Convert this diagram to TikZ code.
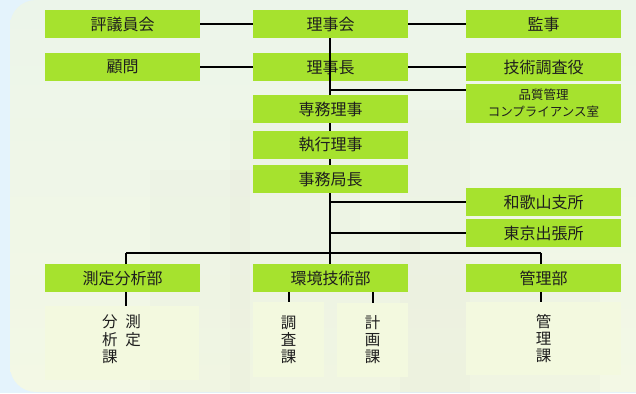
\documentclass[tikz,border=0pt]{standalone}
\usepackage{fontspec}
\setmainfont{Noto Sans CJK JP}
\newfontfamily\cjk{Noto Sans CJK JP}
\definecolor{outerbg}{RGB}{228,243,252}
\definecolor{paneltop}{RGB}{236,245,234}
\definecolor{panelbot}{RGB}{243,248,229}
\definecolor{boxgreen}{RGB}{166,226,46}
\definecolor{subfill}{RGB}{243,249,223}
\definecolor{txt}{RGB}{30,30,30}
\definecolor{photo}{RGB}{200,200,185}
\begin{document}
\begin{tikzpicture}[x=1pt,y=-1pt,
  gbox/.style={fill=boxgreen, draw=none, minimum width=155pt, minimum height=28pt,
    inner sep=0pt, text=txt, font=\cjk\fontsize{16}{17}\selectfont},
  sbox/.style={fill=subfill, draw=none, inner sep=0pt, text=txt,
    font=\cjk\fontsize{15.5}{17}\selectfont, align=center},
  conn/.style={draw=black, line width=2pt}
]
\useasboundingbox (0,0) rectangle (636,393);
\fill[outerbg] (0,0) rectangle (636,393);
\shade[top color=paneltop, bottom color=panelbot, rounded corners=26pt]
  (10,0) rectangle (680,392);
% faint photo texture
\begin{scope}[opacity=0.05]
  \fill[photo] (150,170) rectangle (250,393);
  \fill[photo] (230,120) rectangle (300,393);
  \fill[photo] (300,150) rectangle (360,393);
  \fill[photo] (400,110) rectangle (470,393);
  \fill[photo] (360,230) rectangle (420,393);
  \fill[photo] (420,260) rectangle (600,393);
\end{scope}

% ---- boxes ----
\node[gbox] (hyogi)  at (122.5,24)  {評議員会};
\node[gbox] (rijikai) at (330.5,24) {理事会};
\node[gbox] (kanji)  at (543.5,24)  {監事};
\node[gbox] (komon)  at (122.5,67)  {顧問};
\node[gbox] (rijicho) at (330.5,67) {理事長};
\node[gbox] (gijutsu) at (543.5,67) {技術調査役};
\node[gbox, minimum height=39pt, align=center, font=\cjk\fontsize{12.5}{17}\selectfont]
  (hinshitsu) at (543.5,103.5) {品質管理\\コンプライアンス室};

% ---- coordinates on trunk ----
\coordinate (tHin) at (330,90);
\coordinate (tWak) at (330,202);
\coordinate (tTok) at (330,233);
\coordinate (bus1) at (126,253);
\coordinate (bus2) at (330,253);
\coordinate (bus3) at (541,253);

% trunk (behind boxes)
\draw[conn] (rijikai.south -| bus2) -- (bus2);
\draw[conn] (tHin) -- (hinshitsu.west |- tHin);

\node[gbox] (senmu)  at (330.5,109) {専務理事};
\node[gbox] (shikko) at (330.5,145) {執行理事};
\node[gbox] (jimu)   at (330.5,179) {事務局長};
\node[gbox] (wakayama) at (543.5,202) {和歌山支所};
\node[gbox] (tokyo)  at (543.5,233) {東京出張所};
\node[gbox] (sokutei) at (122.5,278) {測定分析部};
\node[gbox] (kankyo) at (330.5,278) {環境技術部};
\node[gbox] (kanri)  at (543.5,278) {管理部};

% ---- sub boxes ----
\node[sbox, minimum width=154pt, minimum height=74pt] (s1) at (122,343) {};
\node[sbox] (s1txt) at (121.5,341)
  {\begin{tabular}{@{}c@{\hspace{8pt}}c@{}}分&測\\析&定\\課&\end{tabular}};
\node[sbox, minimum width=71pt, minimum height=75pt] (s2a) at (288.5,339.5) {調\\査\\課};
\node[sbox, minimum width=71pt, minimum height=74pt] (s2b) at (372.5,340) {計\\画\\課};
\node[sbox, minimum width=155pt, minimum height=73pt] (s3) at (543.5,338.5) {管\\理\\課};

% ---- connectors ----
\draw[conn] (hyogi.east) -- (rijikai.west);
\draw[conn] (rijikai.east) -- (kanji.west);
\draw[conn] (komon.east) -- (rijicho.west);
\draw[conn] (rijicho.east) -- (gijutsu.west);
\draw[conn] (tWak) -- (wakayama.west |- tWak);
\draw[conn] (tTok) -- (tokyo.west |- tTok);
\draw[conn] (bus1) -- (bus3);
\draw[conn] (bus1) -- (sokutei.north -| bus1);
\draw[conn] (bus3) -- (kanri.north -| bus3);
\draw[conn] (jimu.south -| bus2) -- (kankyo.north -| bus2);
\draw[conn] (sokutei.south -| bus1) -- (s1.north -| bus1);
\draw[conn] (kankyo.south -| s2a) -- (s2a.north);
\draw[conn] (kankyo.south -| s2b) -- (s2b.north);
\draw[conn] (kanri.south -| bus3) -- (s3.north -| bus3);
\end{tikzpicture}
\end{document}
